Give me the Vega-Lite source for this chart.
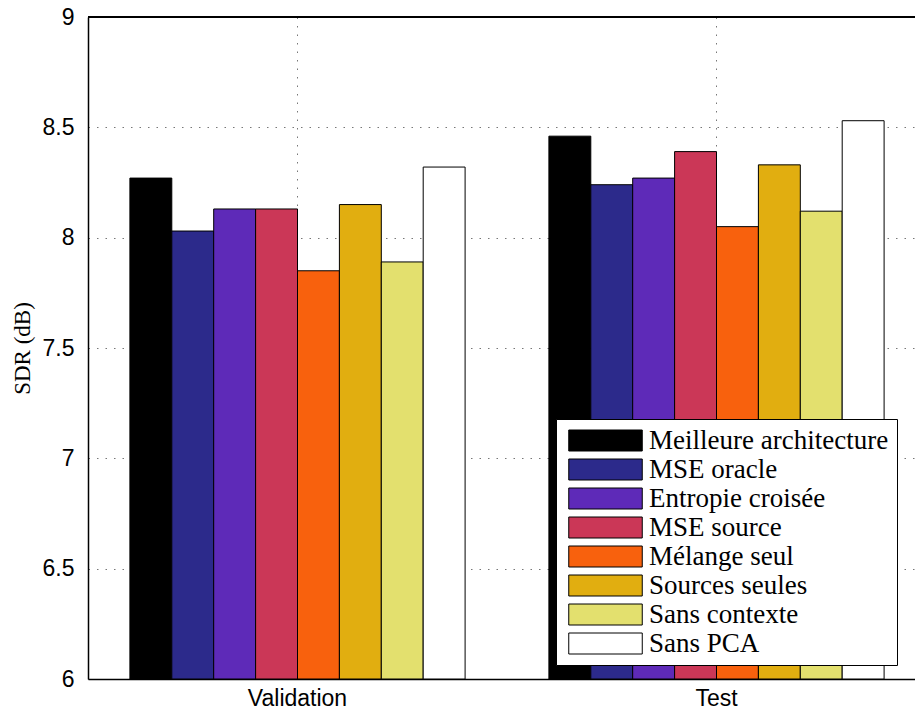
{
  "$schema": "https://vega.github.io/schema/vega-lite/v6.json",
  "width": 827,
  "height": 662,
  "autosize": {"type": "none"},
  "padding": {"left": 88, "top": 17, "right": 0, "bottom": 33},
  "background": "white",
  "config": {"view": {"stroke": null}},
  "data": {
    "values": [
      {"set": "Validation", "method": "Meilleure architecture", "sdr": 8.27},
      {"set": "Validation", "method": "MSE oracle", "sdr": 8.03},
      {"set": "Validation", "method": "Entropie croisée", "sdr": 8.13},
      {"set": "Validation", "method": "MSE source", "sdr": 8.13},
      {"set": "Validation", "method": "Mélange seul", "sdr": 7.85},
      {"set": "Validation", "method": "Sources seules", "sdr": 8.15},
      {"set": "Validation", "method": "Sans contexte", "sdr": 7.89},
      {"set": "Validation", "method": "Sans PCA", "sdr": 8.32},
      {"set": "Test", "method": "Meilleure architecture", "sdr": 8.46},
      {"set": "Test", "method": "MSE oracle", "sdr": 8.24},
      {"set": "Test", "method": "Entropie croisée", "sdr": 8.27},
      {"set": "Test", "method": "MSE source", "sdr": 8.39},
      {"set": "Test", "method": "Mélange seul", "sdr": 8.05},
      {"set": "Test", "method": "Sources seules", "sdr": 8.33},
      {"set": "Test", "method": "Sans contexte", "sdr": 8.12},
      {"set": "Test", "method": "Sans PCA", "sdr": 8.53}
    ]
  },
  "layer": [
    {
      "mark": {"type": "bar", "stroke": "black", "strokeWidth": 1},
      "encoding": {
        "x": {
          "field": "set",
          "type": "nominal",
          "sort": ["Validation", "Test"],
          "scale": {"range": [0, 838], "paddingInner": 0.2, "paddingOuter": 0.1},
          "axis": {
            "title": null,
            "labelAngle": 0,
            "labelFont": "Liberation Sans",
            "labelFontSize": 23,
            "labelColor": "black",
            "labelPadding": 8,
            "ticks": false,
            "grid": true,
            "bandPosition": 0.5,
            "gridDash": [1.5, 7],
            "gridColor": "#777777",
            "domainColor": "black",
            "domainWidth": 1.5
          }
        },
        "xOffset": {
          "field": "method",
          "type": "nominal",
          "scale": {
            "domain": ["Meilleure architecture", "MSE oracle", "Entropie croisée", "MSE source", "Mélange seul", "Sources seules", "Sans contexte", "Sans PCA"],
            "paddingInner": 0,
            "paddingOuter": 0
          }
        },
        "y": {
          "field": "sdr",
          "type": "quantitative",
          "scale": {"domain": [6, 9], "zero": false, "nice": false},
          "axis": {
            "values": [6, 6.5, 7, 7.5, 8, 8.5, 9],
            "format": "~g",
            "labelFont": "Liberation Sans",
            "labelFontSize": 23,
            "labelColor": "black",
            "labelPadding": 14,
            "ticks": false,
            "grid": true,
            "gridDash": [1.5, 7],
            "gridColor": "#777777",
            "domainColor": "black",
            "domainWidth": 1.5,
            "title": "SDR (dB)",
            "titleFont": "Liberation Serif",
            "titleFontSize": 23,
            "titleFontWeight": "normal",
            "titleColor": "black",
            "titleAngle": 270,
            "titleX": -66,
            "titleY": 331,
            "titleAlign": "center",
            "titleBaseline": "middle"
          }
        },
        "y2": {"datum": 6},
        "color": {
          "field": "method",
          "type": "nominal",
          "scale": {
            "domain": ["Meilleure architecture", "MSE oracle", "Entropie croisée", "MSE source", "Mélange seul", "Sources seules", "Sans contexte", "Sans PCA"],
            "range": ["#000000", "#2C2A8B", "#5E2AB8", "#CB3757", "#F8610D", "#E1AE10", "#E3E06E", "#FFFFFF"]
          },
          "legend": {
            "orient": "none",
            "legendX": 468,
            "legendY": 402,
            "title": null,
            "fillColor": "white",
            "strokeColor": "black",
            "padding": 8,
            "labelFont": "Liberation Serif",
            "labelFontSize": 27,
            "labelColor": "black",
            "labelLimit": 400,
            "labelOffset": 30,
            "rowPadding": 1,
            "symbolType": "M-3.5,-1H3.5V1H-3.5Z",
            "symbolSize": 441,
            "symbolStrokeColor": "black",
            "symbolStrokeWidth": 1,
            "symbolOpacity": 1,
            "symbolOffset": 28
          }
        }
      }
    },
    {
      "mark": {"type": "rule", "color": "black", "strokeWidth": 1.5},
      "encoding": {"y": {"datum": 9}}
    }
  ]
}
